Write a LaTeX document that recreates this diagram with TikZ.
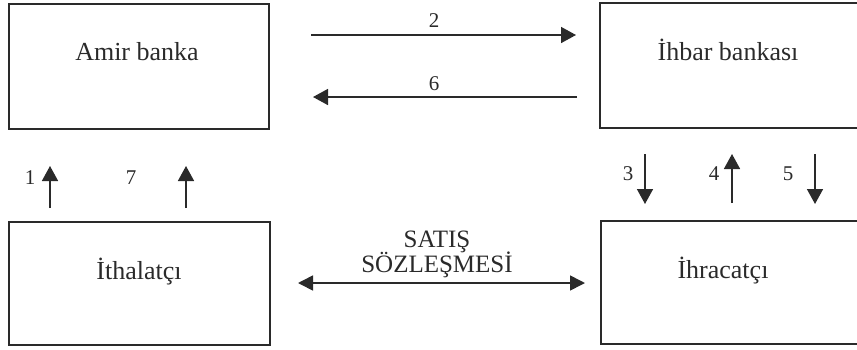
\documentclass[tikz,border=0pt]{standalone}
\usepackage{fontspec}
\setmainfont{Liberation Serif}
\usetikzlibrary{arrows.meta}
\definecolor{ink}{HTML}{2A2A2A}
\begin{document}
\begin{tikzpicture}[x=1pt,y=-1pt,
  boxstyle/.style={draw=ink,line width=1.5pt},
  boxtext/.style={font=\fontsize{26}{28}\selectfont,text=ink,inner sep=0pt},
  numtext/.style={font=\fontsize{21}{22}\selectfont,text=ink,inner sep=0pt},
  flow/.style={draw=ink,line width=1.6pt,-{Triangle[length=15pt,width=16pt]}},
  bothflow/.style={draw=ink,line width=1.6pt,{Triangle[length=15pt,width=15pt]}-{Triangle[length=15pt,width=15pt]}}]
\useasboundingbox (0,0) rectangle (857,349);
\clip (0,0) rectangle (857,349);
% boxes
\node[boxstyle,minimum width=260pt,minimum height=125pt,anchor=north west] (amir) at (8,3) {};
\node[boxstyle,minimum width=270pt,minimum height=125pt,anchor=north west] (ihbar) at (599,2) {};
\node[boxstyle,minimum width=261pt,minimum height=123pt,anchor=north west] (ith) at (8,221) {};
\node[boxstyle,minimum width=270pt,minimum height=123pt,anchor=north west] (ihr) at (600,220) {};
% box texts
\node[boxtext] (tamir) at (137,52) {Amir banka};
\node[boxtext] (tihbar) at (728,50) {İhbar bankası};
\node[boxtext] (tith) at (139,272) {İthalatçı};
\node[boxtext] (tihr) at (723,271) {İhracatçı};
% coordinates for connectors
\coordinate (a2s) at (311,35);
\coordinate (a2e) at (576,35);
\coordinate (a6s) at (577,97);
\coordinate (a6e) at (313,97);
\coordinate (a1s) at (50,208);
\coordinate (a1e) at (50,166);
\coordinate (a7s) at (186,208);
\coordinate (a7e) at (186,166);
\coordinate (a3s) at (645,154);
\coordinate (a3e) at (645,204);
\coordinate (a4s) at (732,203);
\coordinate (a4e) at (732,154);
\coordinate (a5s) at (815,154);
\coordinate (a5e) at (815,204);
\coordinate (sss) at (298,283);
\coordinate (sse) at (585,283);
% connectors
\draw[flow] (a2s) -- (a2e);
\draw[flow] (a6s) -- (a6e);
\draw[flow] (a1s) -- (a1e);
\draw[flow] (a7s) -- (a7e);
\draw[flow] (a3s) -- (a3e);
\draw[flow] (a4s) -- (a4e);
\draw[flow] (a5s) -- (a5e);
\draw[bothflow] (sss) -- (sse);
% labels
\node[numtext] (l2) at (434,21) {2};
\node[numtext] (l6) at (434,84) {6};
\node[numtext] (l1) at (30,178) {1};
\node[numtext] (l7) at (131,178) {7};
\node[numtext] (l3) at (628,174) {3};
\node[numtext] (l4) at (714,174) {4};
\node[numtext] (l5) at (788,174) {5};
\node[font=\fontsize{25}{26}\selectfont,text=ink,inner sep=0pt,align=center] (sat) at (437,254) {SATIŞ\\[-1pt]SÖZLEŞMESİ};
\end{tikzpicture}
\end{document}
